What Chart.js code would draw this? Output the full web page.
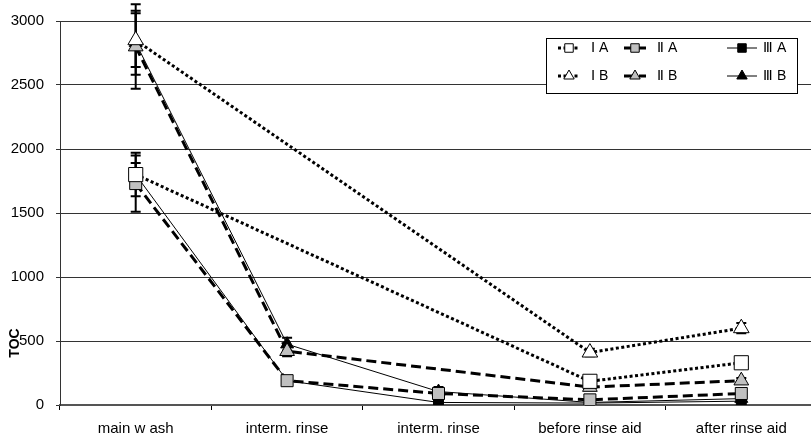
<!DOCTYPE html>
<html>
<head>
<meta charset="utf-8">
<script src="https://cdn.jsdelivr.net/npm/chart.js@4"></script>
<style>
html, body { margin: 0; padding: 0; background: #fff; overflow: hidden; }
#wrap { width: 811px; height: 437px; overflow: hidden; }
</style>
</head>
<body>
<div id="wrap"><canvas id="tocChart" width="828" height="437"></canvas></div>
<script>
// categories (x) and tick settings
const stages = ['main w ash', 'interm. rinse', 'interm. rinse', 'before rinse aid', 'after rinse aid'];
const yMin = 0, yMax = 3000, yStep = 500;

// series values (null = no measurement, line spans the gap)
const valIA   = [1800, null, null, 185, 330];
const valIIA  = [1730, 190, 90, 40, 90];
const valIIIA = [1800, 190, 20, 15, 30];
const valIB   = [2850, null, null, 410, 600];
const valIIB  = [2800, 420, null, 140, 190];
const valIIIB = [2830, 475, 105, 20, 50];

// +/- error per point
const errIA   = [170, 0, 0, 20, 20];
const errIIA  = [220, 30, 20, 10, 20];
const errIIIA = [90, 20, 10, 10, 10];
const errIB   = [210, 0, 0, 30, 40];
const errIIB  = [330, 40, 0, 20, 20];
const errIIIB = [250, 50, 35, 15, 15];

const DOT = [3, 2.5];
const DASH = [10, 5];

function series(label, data, err, dash, width, style, radius, fill) {
  return {
    label: label,
    data: data,
    errors: err,
    borderColor: '#000',
    borderWidth: width,
    borderDash: dash,
    pointStyle: style,
    pointRadius: radius,
    pointHoverRadius: radius,
    pointBackgroundColor: fill,
    pointBorderColor: '#000',
    pointBorderWidth: 1,
    spanGaps: true,
    tension: 0,
    fill: false
  };
}

const datasets = [
  series('Ⅰ A',  valIA,   errIA,   DOT,  3, 'rect', 10, '#fff'),
  series('Ⅱ A',  valIIA,  errIIA,  DASH, 3, 'rect', 8.5, '#c0c0c0'),
  series('Ⅲ A',  valIIIA, errIIIA, [],   1, 'rect', 7, '#000'),
  series('Ⅰ B',  valIB,   errIB,   DOT,  3, 'triangle', 9, '#fff'),
  series('Ⅱ B',  valIIB,  errIIB,  DASH, 3, 'triangle', 8.5, '#c0c0c0'),
  series('Ⅲ B',  valIIIB, errIIIB, [],   1, 'triangle', 7.5, '#000')
];

const errorBars = {
  id: 'errorBars',
  beforeDatasetsDraw(chart) {
    const ctx = chart.ctx, xs = chart.scales.x, ys = chart.scales.y;
    ctx.save();
    ctx.strokeStyle = '#000';
    ctx.lineWidth = 2;
    ctx.setLineDash([]);
    chart.data.datasets.forEach(ds => {
      ds.data.forEach((v, i) => {
        const e = ds.errors[i];
        if (v === null || !e) return;
        const x = xs.getPixelForValue(i);
        const yt = ys.getPixelForValue(v + e);
        const yb = ys.getPixelForValue(v - e);
        ctx.beginPath();
        ctx.moveTo(x, yt); ctx.lineTo(x, yb);
        ctx.moveTo(x - 5, yt); ctx.lineTo(x + 5, yt);
        ctx.moveTo(x - 5, yb); ctx.lineTo(x + 5, yb);
        ctx.stroke();
      });
    });
    ctx.restore();
  }
};

const boxLegend = {
  id: 'boxLegend',
  afterDraw(chart) {
    const ctx = chart.ctx;
    ctx.save();
    ctx.fillStyle = '#fff';
    ctx.fillRect(546, 38, 252, 56);
    ctx.strokeStyle = '#000';
    ctx.lineWidth = 1;
    ctx.strokeRect(546.5, 38.5, 251, 55);
    const colX = [558, 624, 727];
    const rowY = [48, 76];
    ctx.font = '14px "Liberation Sans", Arial, sans-serif';
    ctx.textBaseline = 'middle';
    chart.data.datasets.forEach((ds, k) => {
      const x = colX[k % 3], y = rowY[Math.floor(k / 3)];
      const len = k % 3 === 2 ? 30 : 22;
      ctx.strokeStyle = '#000';
      ctx.lineWidth = ds.borderWidth;
      ctx.setLineDash(ds.borderDash);
      ctx.beginPath();
      ctx.moveTo(x, y); ctx.lineTo(x + len, y);
      ctx.stroke();
      ctx.setLineDash([]);
      ctx.lineWidth = 1;
      ctx.fillStyle = ds.pointBackgroundColor;
      Chart.helpers.drawPoint(ctx, {pointStyle: ds.pointStyle, radius: 6, rotation: 0, borderWidth: 1}, x + len / 2, y);
      ctx.fillStyle = '#000';
      ctx.fillText(ds.label, x + len + (k % 3 === 2 ? 6 : 11), y);
    });
    // y axis title
    ctx.translate(15, 343);
    ctx.rotate(-Math.PI / 2);
    ctx.font = 'bold 14px "Liberation Sans", Arial, sans-serif';
    ctx.textAlign = 'center';
    ctx.fillText('TOC', 0, 0);
    ctx.restore();
  }
};

new Chart(document.getElementById('tocChart'), {
  type: 'line',
  data: { labels: stages, datasets: datasets },
  options: {
    responsive: false,
    animation: false,
    layout: { padding: { top: 20, right: 0, left: 0, bottom: 0 } },
    plugins: { legend: { display: false }, tooltip: { enabled: false } },
    scales: {
      x: {
        offset: true,
        grid: { offset: true, drawOnChartArea: false, drawTicks: true, tickLength: 5, color: '#000' },
        border: { color: '#555', width: 2 },
        ticks: { color: '#000', font: { family: '"Liberation Sans", Arial, sans-serif', size: 15 }, padding: 10, maxRotation: 0, autoSkip: false },
        afterFit(scale) { scale.height = 32; }
      },
      y: {
        min: yMin, max: yMax,
        grid: { color: '#333', lineWidth: 1, tickLength: 4 },
        border: { color: '#333', width: 1 },
        ticks: { stepSize: yStep, color: '#000', font: { family: '"Liberation Sans", Arial, sans-serif', size: 15 }, padding: 12, callback: v => String(v) },
        afterFit(scale) { scale.width = 60; }
      }
    }
  },
  plugins: [errorBars, boxLegend]
});
</script>
</body>
</html>
